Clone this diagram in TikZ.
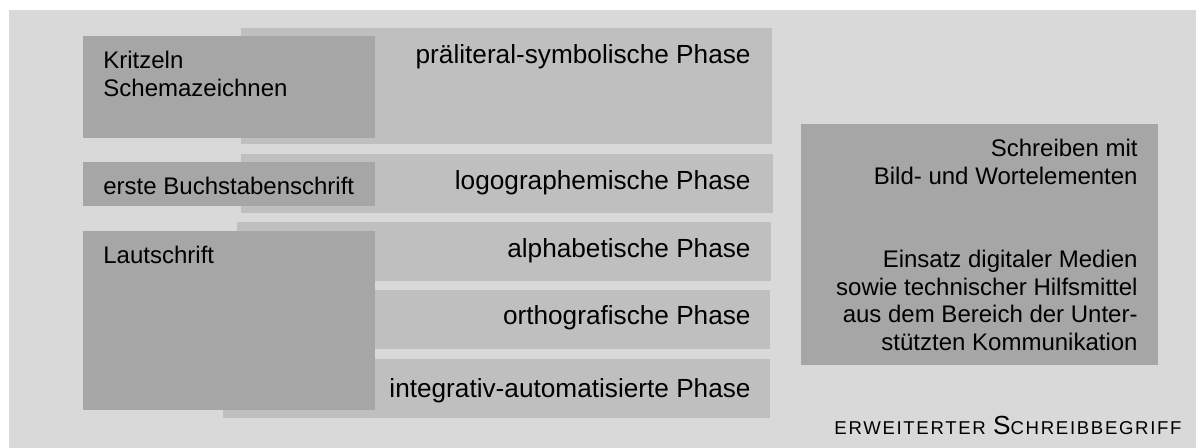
\documentclass[tikz,border=0pt]{standalone}
\usepackage{fontspec}
\setmainfont{Liberation Sans}
\definecolor{bggray}{RGB}{217,217,217}
\definecolor{phasegray}{RGB}{191,191,191}
\definecolor{formgray}{RGB}{166,166,166}
\newcommand{\phasefont}{\fontsize{13.1}{13.8}\selectfont}
\newcommand{\formfont}{\fontsize{12}{13.75}\selectfont}
\newcommand{\capsmall}[1]{{\fontsize{9.3}{10}\selectfont\addfontfeature{LetterSpace=9}#1}}

\begin{document}
\begin{tikzpicture}[x=0.5pt, y=-0.5pt,
    box/.style={rectangle, inner sep=0pt, outer sep=0pt, anchor=north west},
    phasebox/.style={box, fill=phasegray},
    formbox/.style={box, fill=formgray},
    lefttext/.style={inner sep=0pt, anchor=north west, align=left, font=\formfont},
    righttext/.style={inner sep=0pt, anchor=north east, align=right, font=\formfont},
    phasetext/.style={inner sep=0pt, anchor=north east, align=right, font=\phasefont}]
        \useasboundingbox (0,0) rectangle (1196,448);

        % Draw background
        \node[box, fill=bggray, minimum width=593.5pt, minimum height=219pt] (bg) at (9,10) {};

        % Draw phases
        \node[phasebox, minimum width=265.5pt, minimum height=58pt] (pra) at (241,28) {};
        \node[phasebox, minimum width=266pt, minimum height=29.5pt] (logo) at (241,154) {};
        \node[phasebox, minimum width=267pt, minimum height=29.5pt] (alpha) at (237,222) {};
        \node[phasebox, minimum width=270pt, minimum height=29.5pt] (ortho) at (230,290) {};
        \node[phasebox, minimum width=273.5pt, minimum height=29.5pt] (integ) at (223,359) {};

        % Draw forms
        \node[formbox, minimum width=146pt, minimum height=51pt] (kritz) at (83,36) {};
        \node[formbox, minimum width=146pt, minimum height=22pt] (erste) at (83,162) {};
        \node[formbox, minimum width=146pt, minimum height=89.5pt] (laut) at (83,231) {};
        \node[formbox, minimum width=178.5pt, minimum height=120.5pt] (erw) at (801,124) {};

        % Phase labels
        \node[phasetext] (praText) at (751,44.5) {präliteral-symbolische Phase};
        \node[phasetext] (logoText) at (751,170.5) {logographemische Phase};
        \node[phasetext] (alphaText) at (751,238.5) {alphabetische Phase};
        \node[phasetext] (orthoText) at (751,305.5) {orthografische Phase};
        \node[phasetext] (integText) at (751,378.5) {integrativ-automatisierte Phase};

        % Form labels
        \node[lefttext] (kritzText) at (103,51) {Kritzeln\\Schemazeichnen};
        \node[lefttext] (ersteText) at (103,177) {erste Buchstabenschrift};
        \node[lefttext] (lautText) at (103,246) {Lautschrift};
        \node[righttext] (bildText) at (1138,139) {Schreiben mit\\Bild- und Wortelementen};
        \node[righttext] (medText) at (1138,250) {Einsatz digitaler Medien\\sowie technischer Hilfsmittel\\aus dem Bereich der Unter-\\stützten Kommunikation};

        \node[anchor=base east, inner sep=0pt, font=\phasefont] (begriff) at (1182,435) {\capsmall{ERWEITERTER} S\capsmall{CHREIBBEGRIFF}};
    \end{tikzpicture}
\end{document}
